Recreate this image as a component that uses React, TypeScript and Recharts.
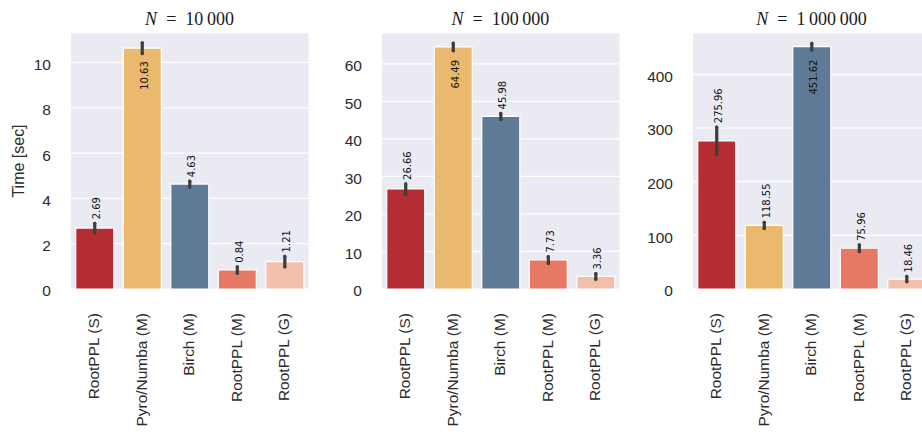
import React from 'react';
import { BarChart, Bar, Cell, XAxis, YAxis, CartesianGrid, ErrorBar, LabelList } from 'recharts';

const CATEGORIES = ['RootPPL (S)', 'Pyro/Numba (M)', 'Birch (M)', 'RootPPL (M)', 'RootPPL (G)'];

const BAR_COLORS = ['#b42d32', '#ebb96e', '#5f7a97', '#e77863', '#f2bfaa'];

// mean run times [sec] and half-width of the confidence interval
const TIMES_10K = [2.69, 10.63, 4.63, 0.84, 1.21];
const ERR_10K = [0.21, 0.24, 0.13, 0.14, 0.23];

const TIMES_100K = [26.66, 64.49, 45.98, 7.73, 3.36];
const ERR_100K = [1.33, 1.0, 0.8, 0.93, 0.75];

const TIMES_1M = [275.96, 118.55, 451.62, 75.96, 18.46];
const ERR_1M = [25.5, 5.6, 5.9, 6.5, 5.0];

const TICKS_10K = [0, 2, 4, 6, 8, 10];
const TICKS_100K = [0, 10, 20, 30, 40, 50, 60];
const TICKS_1M = [0, 100, 200, 300, 400];

const TITLES = ['10\u2009000', '100\u2009000', '1\u2009000\u2009000'];

const Y_MAX = [11.3, 68.2, 477];

const PLOT_LEFT = [70.7, 381.7, 692.7];
const PLOT_W = 237.6;
const AXIS_W = 71;
const TEXT = '#2b2b2b';

function CategoryTick(props: any) {
  const { x, y, payload } = props;
  return (
    <text
      transform={`translate(${x - 1},${y}) rotate(-90)`}
      textAnchor="end"
      dy="0.35em"
      fontFamily="Liberation Sans"
      fontSize={15.5}
      fill={TEXT}
    >
      {payload.value}
    </text>
  );
}

const makeValueLabel = (values: number[], errs: number[]) => (props: any) => {
  const { x, y, width, height, index } = props;
  const value = values[index];
  const pxPerUnit = height / value;
  const cx = x + width / 2 + 2;
  const isMax = value === Math.max(...values);
  const ty = isMax ? y + 13 : y - errs[index] * pxPerUnit - 4;
  return (
    <text
      transform={`translate(${cx},${ty}) rotate(-90)`}
      textAnchor={isMax ? 'end' : 'start'}
      dy="0.35em"
      fontFamily="DejaVu Sans"
      fontSize={10}
      fill="#111"
    >
      {value.toFixed(2)}
    </text>
  );
};

function Panel({ idx, values, errs, ticks, showLabel }: any) {
  const data = CATEGORIES.map((name, i) => ({ name, time: values[i], err: errs[i] }));
  const left = PLOT_LEFT[idx] - AXIS_W;
  return (
    <div style={{ position: 'absolute', left, top: 0 }}>
      <BarChart
        width={AXIS_W + PLOT_W + 3}
        height={441}
        data={data}
        margin={{ top: 33, right: 3, left: 0, bottom: 12 }}
        barCategoryGap="10%"
      >
        <CartesianGrid vertical={false} stroke="#ffffff" strokeWidth={1.2} fill="#eaeaf2" fillOpacity={1} />
        <XAxis
          dataKey="name"
          axisLine={false}
          tickLine={false}
          tickSize={0}
          tickMargin={24}
          height={140}
          interval={0}
          tick={<CategoryTick />}
        />
        <YAxis
          width={AXIS_W}
          domain={[0, Y_MAX[idx]]}
          ticks={ticks}
          allowDataOverflow
          axisLine={false}
          tickLine={false}
          tickSize={0}
          tickMargin={20}
          tick={{ fontFamily: 'Liberation Sans', fontSize: 15.5, fill: TEXT, dy: 2 }}
          label={
            showLabel
              ? {
                  value: 'Time [sec]',
                  angle: -90,
                  position: 'insideLeft',
                  offset: 18,
                  style: { fontFamily: 'Liberation Sans', fontSize: 16, fill: TEXT, textAnchor: 'middle' },
                }
              : undefined
          }
        />
        <Bar dataKey="time" stroke="#ffffff" strokeWidth={1.2} isAnimationActive={false}>
          {data.map((d, i) => (
            <Cell key={d.name} fill={BAR_COLORS[i]} />
          ))}
          <ErrorBar
            dataKey="err"
            width={0}
            strokeWidth={3.2}
            stroke="#3d3d3d"
            strokeLinecap="round"
            direction="y"
            isAnimationActive={false}
          />
          <LabelList dataKey="time" content={makeValueLabel(values, errs)} />
        </Bar>
      </BarChart>
      <div
        style={{
          position: 'absolute',
          left: AXIS_W,
          width: PLOT_W,
          top: 9,
          height: 20,
          lineHeight: '20px',
          textAlign: 'center',
          fontFamily: 'Liberation Serif',
          fontSize: 18,
          color: '#1a1a1a',
          whiteSpace: 'nowrap',
        }}
      >
        <i>N</i>
        {'\u2002=\u2002'}
        {TITLES[idx]}
      </div>
    </div>
  );
}

export default function App() {
  return (
    <div
      style={{
        position: 'absolute',
        left: 0,
        top: 0,
        width: 922,
        height: 441,
        overflow: 'hidden',
        background: '#ffffff',
      }}
    >
      <Panel idx={0} values={TIMES_10K} errs={ERR_10K} ticks={TICKS_10K} showLabel />
      <Panel idx={1} values={TIMES_100K} errs={ERR_100K} ticks={TICKS_100K} />
      <Panel idx={2} values={TIMES_1M} errs={ERR_1M} ticks={TICKS_1M} />
    </div>
  );
}
